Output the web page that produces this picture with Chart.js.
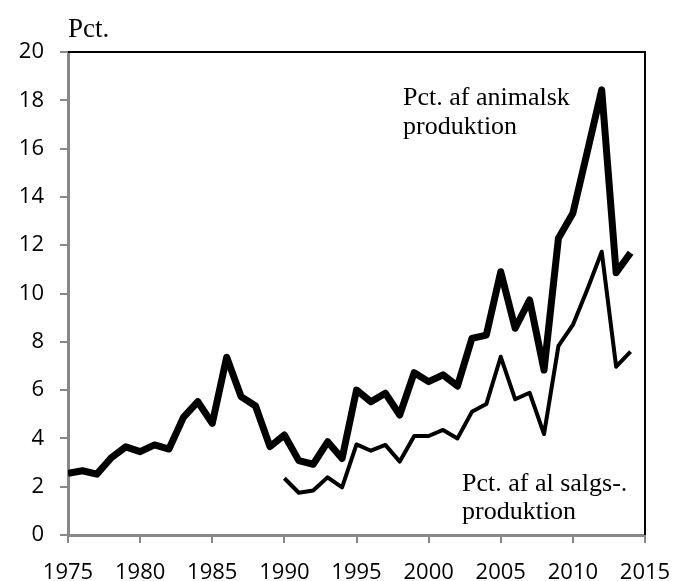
<!DOCTYPE html>
<html>
<head>
<meta charset="utf-8">
<script src="https://cdn.jsdelivr.net/npm/chart.js@4.4.1/dist/chart.umd.min.js"></script>
<style>
  html, body { margin: 0; padding: 0; background: #fff; }
  #wrap { width: 674px; height: 581px; }
</style>
</head>
<body>
<div id="wrap"><canvas id="chart"></canvas></div>
<script>
const years = [1975, 1976, 1977, 1978, 1979, 1980, 1981, 1982, 1983, 1984,
  1985, 1986, 1987, 1988, 1989, 1990, 1991, 1992, 1993, 1994,
  1995, 1996, 1997, 1998, 1999, 2000, 2001, 2002, 2003, 2004,
  2005, 2006, 2007, 2008, 2009, 2010, 2011, 2012, 2013, 2014];
const animalPct = [2.55, 2.66, 2.52, 3.2, 3.65, 3.45, 3.73, 3.56, 4.87, 5.52,
  4.62, 7.36, 5.73, 5.34, 3.66, 4.14, 3.08, 2.93, 3.86, 3.17,
  6.0, 5.52, 5.87, 4.97, 6.72, 6.35, 6.63, 6.17, 8.14, 8.28,
  10.9, 8.56, 9.73, 6.83, 12.29, 13.32, 15.87, 18.43, 10.86, 11.69];
const salesYears = [1990, 1991, 1992, 1993, 1994, 1995, 1996, 1997, 1998, 1999,
  2000, 2001, 2002, 2003, 2004, 2005, 2006, 2007, 2008, 2009,
  2010, 2011, 2012, 2013, 2014];
const salesPct = [2.35, 1.75, 1.84, 2.39, 1.97, 3.75, 3.49, 3.73, 3.04, 4.1,
  4.1, 4.35, 4.0, 5.1, 5.42, 7.38, 5.62, 5.89, 4.18, 7.83,
  8.7, 10.17, 11.73, 6.97, 7.59];
const yTicks = [0, 2, 4, 6, 8, 10, 12, 14, 16, 18, 20];
const xTicks = [1975, 1980, 1985, 1990, 1995, 2000, 2005, 2010, 2015];

const tickFont = { family: "'Open Sans', sans-serif", size: 22 };
const serifFam = "'Liberation Serif', 'Times New Roman', serif";

// frame on top/right + free text labels
const extras = {
  id: 'extras',
  afterDraw(chart) {
    const { ctx, chartArea: a } = chart;
    ctx.save();
    ctx.strokeStyle = '#000';
    ctx.lineWidth = 2;
    ctx.beginPath();
    ctx.moveTo(a.left, a.top);
    ctx.lineTo(a.right, a.top);
    ctx.lineTo(a.right, a.bottom);
    ctx.stroke();

    ctx.fillStyle = '#000';
    ctx.textAlign = 'left';
    ctx.textBaseline = 'alphabetic';
    ctx.font = '27px ' + serifFam;
    ctx.fillText('Pct.', 68, 37);
    ctx.font = '26px ' + serifFam;
    ctx.fillText('Pct. af animalsk', 403, 105);
    ctx.fillText('produktion', 403, 134);
    ctx.fillText('Pct. af al salgs-.', 462, 491);
    ctx.fillText('produktion', 462, 519);
    ctx.restore();
  }
};

new Chart(document.getElementById('chart'), {
  type: 'line',
  data: {
    datasets: [
      {
        label: 'Pct. af animalsk produktion',
        data: years.map((y, i) => ({ x: y, y: animalPct[i] })),
        borderColor: '#000',
        borderWidth: 7,
        borderJoinStyle: 'round',
        pointRadius: 0,
        tension: 0
      },
      {
        label: 'Pct. af al salgsproduktion',
        data: salesYears.map((y, i) => ({ x: y, y: salesPct[i] })),
        borderColor: '#000',
        borderWidth: 4,
        borderJoinStyle: 'round',
        pointRadius: 0,
        tension: 0
      }
    ]
  },
  options: {
    responsive: true,
    maintainAspectRatio: false,
    animation: false,
    layout: { padding: { top: 52, right: 29, left: 0, bottom: 0 } },
    plugins: { legend: { display: false }, tooltip: { enabled: false } },
    scales: {
      x: {
        type: 'linear',
        min: 1975,
        max: 2015,
        afterBuildTicks: s => { s.ticks = xTicks.map(v => ({ value: v })); },
        afterFit: s => { s.height = 46; s.paddingLeft = 0; s.paddingRight = 0; },
        ticks: { color: '#000', font: tickFont, padding: 17, maxRotation: 0, callback: v => String(v) },
        grid: { drawOnChartArea: false, tickLength: 8, color: '#888', lineWidth: 2 },
        border: { color: '#888', width: 3 }
      },
      y: {
        min: 0,
        max: 20,
        afterBuildTicks: s => { s.ticks = yTicks.map(v => ({ value: v })); },
        afterFit: s => { s.width = 68; s.paddingTop = 0; s.paddingBottom = 0; },
        ticks: { color: '#000', font: tickFont, padding: 16 },
        grid: { drawOnChartArea: false, tickLength: 8, color: '#888', lineWidth: 2 },
        border: { color: '#888', width: 3 }
      }
    }
  },
  plugins: [extras]
});
</script>
</body>
</html>
